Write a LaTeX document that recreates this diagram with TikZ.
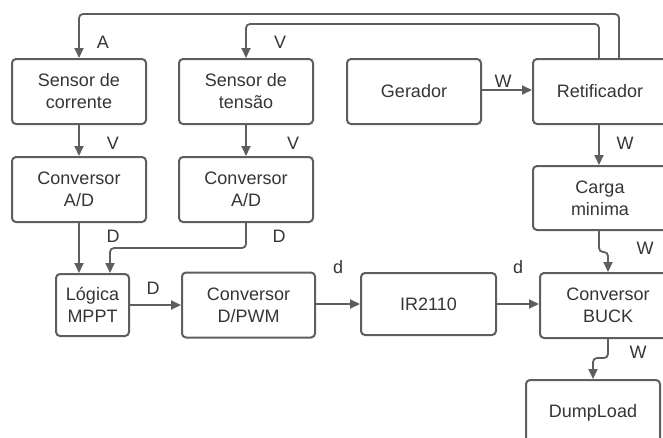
\documentclass[tikz,border=0pt]{standalone}
\usepackage{fontspec}
\setmainfont{Liberation Sans}
\usetikzlibrary{arrows.meta}
\definecolor{edgegray}{HTML}{5E5E5E}
\definecolor{txtgray}{HTML}{353535}
\tikzset{
  blk/.style={draw=edgegray, line width=2pt, fill=white, rounded corners=4pt,
    minimum width=134pt, minimum height=65pt, align=center, text=txtgray,
    font=\fontsize{18}{22}\selectfont, inner sep=2pt},
  conn/.style={draw=edgegray, line width=1.8pt, rounded corners=4pt,
    -{Triangle[length=10pt,width=9pt]}},
  lbl/.style={text=txtgray, font=\fontsize{18}{22}\selectfont, inner sep=0pt}
}
\begin{document}
\begin{tikzpicture}[x=1pt,y=-1pt]
\useasboundingbox (0,0) rectangle (663,437);
% blocks
\node[blk] (sc) at (79,91.5) {Sensor de\\corrente};
\node[blk] (st) at (246,91.5) {Sensor de\\tensão};
\node[blk] (gen) at (414,91.5) {Gerador};
\node[blk] (ret) at (600,91.5) {Retificador};
\node[blk] (ad1) at (79,189.5) {Conversor\\A/D};
\node[blk] (ad2) at (246,189.5) {Conversor\\A/D};
\node[blk, minimum height=64pt] (carga) at (600,198) {Carga\\minima};
\node[blk, minimum width=73pt, minimum height=62pt] (log) at (92.5,305) {Lógica\\MPPT};
\node[blk, minimum width=133pt] (pwm) at (248.5,305) {Conversor\\D/PWM};
\node[blk, minimum width=135pt, minimum height=62pt] (ir) at (428.5,304) {IR2110};
\node[blk, minimum width=136pt] (buck) at (608,305.5) {Conversor\\BUCK};
\node[blk] (dump) at (593,412.5) {DumpLoad};
% connectors
\draw[conn] ([xshift=19pt]ret.north) -- ++(0,-44) -| (sc.north);
\draw[conn] ([xshift=-1pt]ret.north) -- ++(0,-34) -| (st.north);
\draw[conn] (sc.south) -- (ad1.north);
\draw[conn] (st.south) -- (ad2.north);
\draw[conn] (gen.east |- 0,90) -- (ret.west |- 0,90);
\draw[conn] ([xshift=-1pt]ret.south) -- ([xshift=-1pt]carga.north);
\draw[conn] (ad1.south) -- (ad1.south |- log.north);
\draw[conn] (ad2.south) -- ++(0,25) -| ([xshift=17.5pt]log.north);
\draw[conn] (log.east) -- (pwm.west |- log.east);
\draw[conn] (pwm.east |- ir.west) -- (ir.west);
\draw[conn] (ir.east) -- (buck.west |- ir.east);
\draw[conn] ([xshift=-1pt]carga.south) -- ++(0,21) -| (buck.north);
\draw[conn] (buck.south) -- ++(0,19) -| (dump.north);
% labels
\node[lbl] (lA) at (103,42) {A};
\node[lbl] (lV1) at (280,42) {V};
\node[lbl] (lV2) at (113,143) {V};
\node[lbl] (lV3) at (293,143) {V};
\node[lbl] (lW1) at (503,81) {W};
\node[lbl] (lW2) at (625,143) {W};
\node[lbl] (lD1) at (113,236) {D};
\node[lbl] (lD2) at (279,236) {D};
\node[lbl] (lD3) at (153,288) {D};
\node[lbl] (ld1) at (338,267) {d};
\node[lbl] (ld2) at (518,267) {d};
\node[lbl] (lW3) at (645,248) {W};
\node[lbl] (lW4) at (638,352) {W};
\end{tikzpicture}
\end{document}
